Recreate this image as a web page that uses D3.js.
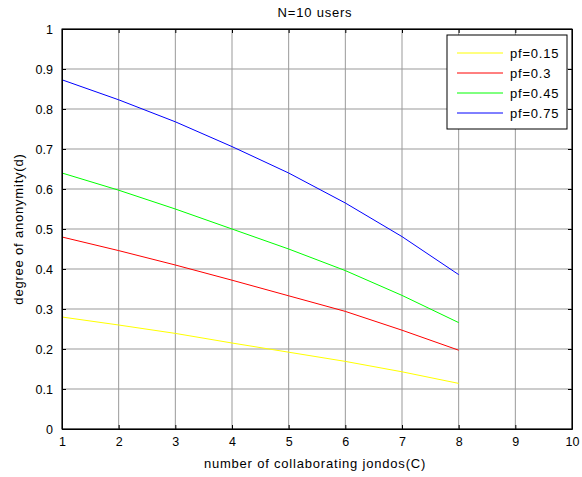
<!DOCTYPE html>
<html><head><meta charset="utf-8">
<script src="https://cdn.jsdelivr.net/npm/d3@7"></script>
<style>body{margin:0;background:#fff}svg{display:block;font-family:"Liberation Sans",Arial,sans-serif}</style>
</head><body><svg id="c" width="582" height="477"></svg>
<script>
const xValues = [1,2,3,4,5,6,7,8];
const pf015 = [0.280,0.260,0.239,0.215,0.192,0.169,0.143,0.114];
const pf03  = [0.480,0.446,0.410,0.372,0.333,0.294,0.247,0.197];
const pf045 = [0.640,0.597,0.550,0.500,0.450,0.396,0.334,0.266];
const pf075 = [0.873,0.823,0.768,0.706,0.640,0.565,0.481,0.386];
const seriesNames = ["pf=0.15","pf=0.3","pf=0.45","pf=0.75"];
const seriesColors = ["#ffff00","#ff0000","#00ff00","#0000ff"];
const xTicks = [1,2,3,4,5,6,7,8,9,10];
const yTicks = [0,0.1,0.2,0.3,0.4,0.5,0.6,0.7,0.8,0.9,1];

const svg = d3.select("#c");
const L=62,R=572,T=29,B=429;
const x = d3.scaleLinear().domain([1,10]).range([L,R]);
const y = d3.scaleLinear().domain([0,1]).range([B,T]);

// grid
const g = svg.append("g");
g.selectAll(".vg").data(xTicks).enter().append("line")
 .attr("x1",d=>x(d)).attr("x2",d=>x(d)).attr("y1",T).attr("y2",B)
 .attr("stroke","#999").attr("stroke-width",1);
g.selectAll(".hg").data(yTicks).enter().append("line")
 .attr("y1",d=>y(d)).attr("y2",d=>y(d)).attr("x1",L).attr("x2",R)
 .attr("stroke","#999").attr("stroke-width",1);

// lines
const all=[pf015,pf03,pf045,pf075];
const line = d3.line().x((d,i)=>x(xValues[i])).y(d=>y(d));
all.forEach((s,i)=>{
  svg.append("path").datum(s).attr("d",line).attr("fill","none")
   .attr("stroke",seriesColors[i]).attr("stroke-width",1);
});

// axes (ticks inward)
const fmt = d=>d3.format("")(+d.toFixed(1));
const axB = svg.append("g").attr("transform",`translate(0,${B})`)
 .call(d3.axisBottom(x).tickValues(xTicks).tickSizeInner(-4).tickSizeOuter(0).tickPadding(8));
const axT = svg.append("g").attr("transform",`translate(0,${T})`)
 .call(d3.axisTop(x).tickValues(xTicks).tickSizeInner(-4).tickSizeOuter(0).tickFormat(""));
const axL = svg.append("g").attr("transform",`translate(${L},0)`)
 .call(d3.axisLeft(y).tickValues(yTicks).tickSizeInner(-4).tickSizeOuter(0).tickPadding(9).tickFormat(fmt));
const axR = svg.append("g").attr("transform",`translate(${R},0)`)
 .call(d3.axisRight(y).tickValues(yTicks).tickSizeInner(-4).tickSizeOuter(0).tickFormat(""));
[axB,axT,axL,axR].forEach(a=>{
  a.selectAll("text").attr("font-size",12.5).attr("fill","#000").attr("font-family","Liberation Sans, Arial, sans-serif");
  a.selectAll(".tick line").attr("stroke","#000");
  a.select(".domain").attr("stroke","#000").attr("stroke-width",1);
});
axB.selectAll(".tick text").attr("dy","0.71em");
svg.append("rect").attr("x",L).attr("y",T).attr("width",R-L).attr("height",B-T)
 .attr("fill","none").attr("stroke","#000").attr("stroke-width",1);

// labels
svg.append("text").attr("x",315).attr("y",17).attr("text-anchor","middle")
 .attr("font-size",13).attr("letter-spacing",0.8).text("N=10 users");
svg.append("text").attr("x",315).attr("y",468).attr("text-anchor","middle")
 .attr("font-size",13).attr("letter-spacing",0.8).text("number of collaborating jondos(C)");
svg.append("text").attr("transform",`translate(23,${(T+B)/2}) rotate(-90)`).attr("text-anchor","middle")
 .attr("font-size",13).attr("letter-spacing",0.8).text("degree of anonymity(d)");

// legend
const lg = svg.append("g");
lg.append("rect").attr("x",447).attr("y",35).attr("width",120).attr("height",94)
 .attr("fill","#fff").attr("stroke","#000").attr("stroke-width",1);
seriesNames.forEach((n,i)=>{
  const yy = 53+i*20;
  lg.append("line").attr("x1",457).attr("x2",503).attr("y1",yy).attr("y2",yy)
   .attr("stroke",seriesColors[i]).attr("stroke-width",1);
  lg.append("text").attr("x",510).attr("y",yy).attr("dy","0.35em")
   .attr("font-size",13).attr("letter-spacing",0.8).text(n);
});
</script></body></html>
